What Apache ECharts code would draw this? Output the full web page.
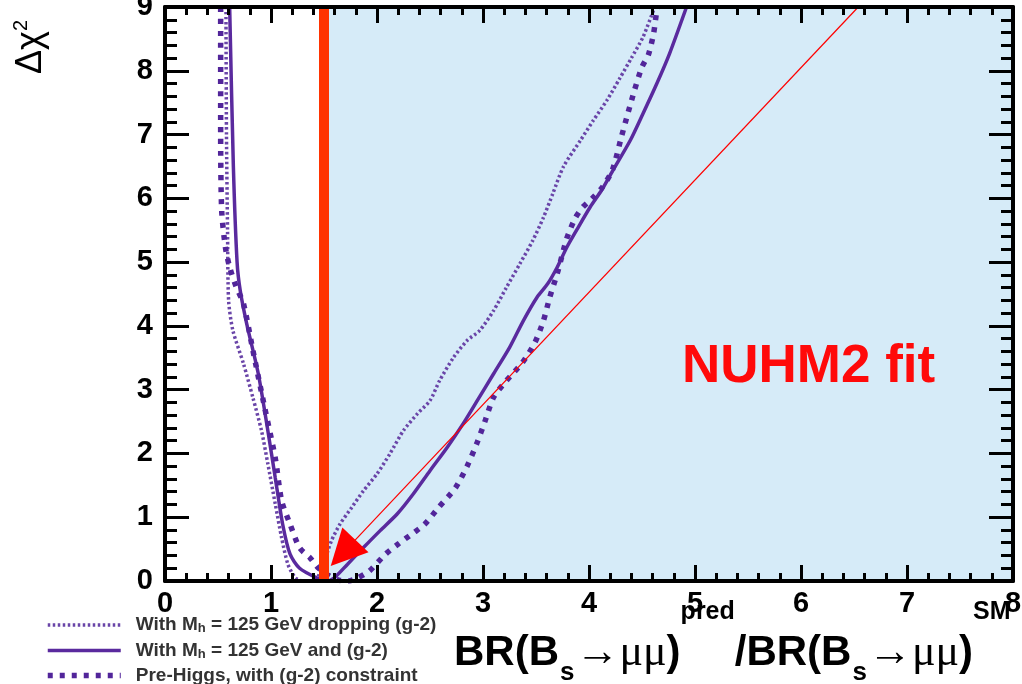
<!DOCTYPE html>
<html>
<head>
<meta charset="utf-8">
<script src="https://cdn.jsdelivr.net/npm/echarts@6/dist/echarts.min.js"></script>
<style>
	html, body { margin: 0; padding: 0; background: #fff; }
	#chart { width: 1022px; height: 684px; }
</style>
</head>
<body>
<div id="chart"></div>
<script>
	"use strict";

	/*-----data-----*/
	var xTicks = [0, 1, 2, 3, 4, 5, 6, 7, 8];
	var yTicks = [0, 1, 2, 3, 4, 5, 6, 7, 8, 9];

	var seriesNames = [
		'With Mh = 125 GeV dropping (g-2)',
		'With Mh = 125 GeV and (g-2)',
		'Pre-Higgs, with (g-2) constraint'
	];

	// dotted: Mh = 125 GeV, (g-2) dropped
	var dropData = [
		[0.575, 9.0], [0.58, 7.0], [0.59, 5.5], [0.60, 4.4], [0.64, 3.93], [0.74, 3.41],
		[0.83, 2.87], [0.91, 2.36], [0.97, 1.84], [1.04, 1.21], [1.10, 0.68], [1.16, 0.26],
		[1.23, 0.05], [1.30, 0.0], [1.42, 0.02], [1.50, 0.30], [1.57, 0.63], [1.65, 0.89],
		[1.76, 1.15], [1.87, 1.41], [2.00, 1.68], [2.12, 1.99], [2.25, 2.36], [2.38, 2.62],
		[2.50, 2.83], [2.59, 3.14], [2.72, 3.50], [2.85, 3.77], [2.97, 3.93], [3.10, 4.24],
		[3.22, 4.60], [3.35, 4.98], [3.47, 5.34], [3.57, 5.70], [3.66, 6.08], [3.76, 6.50],
		[3.92, 6.91], [4.04, 7.22], [4.17, 7.54], [4.29, 7.88], [4.40, 8.20], [4.51, 8.53],
		[4.62, 9.0]
	];

	// solid: Mh = 125 GeV and (g-2)
	var withData = [
		[0.61, 9.0], [0.645, 6.5], [0.68, 5.0], [0.71, 4.55], [0.77, 4.04], [0.88, 3.25],
		[0.97, 2.36], [1.04, 1.62], [1.11, 0.89], [1.18, 0.42], [1.27, 0.20], [1.43, 0.05],
		[1.52, 0.0], [1.59, 0.04], [1.72, 0.26], [1.87, 0.52], [2.03, 0.79], [2.19, 1.05],
		[2.34, 1.36], [2.50, 1.73], [2.66, 2.09], [2.81, 2.46], [2.95, 2.84], [3.10, 3.25],
		[3.25, 3.66], [3.38, 4.08], [3.51, 4.45], [3.61, 4.66], [3.70, 4.92], [3.79, 5.23],
		[3.90, 5.55], [4.01, 5.86], [4.12, 6.13], [4.23, 6.45], [4.39, 6.91], [4.51, 7.33],
		[4.64, 7.80], [4.76, 8.27], [4.92, 9.0]
	];

	// dashed: pre-Higgs with (g-2)
	var preData = [
		[0.525, 9.0], [0.525, 7.0], [0.535, 5.8], [0.57, 5.23], [0.61, 4.92], [0.67, 4.62],
		[0.74, 4.35], [0.83, 3.61], [0.94, 2.72], [1.04, 1.93], [1.10, 1.26], [1.18, 0.89],
		[1.27, 0.52], [1.37, 0.36], [1.45, 0.20], [1.55, 0.08], [1.65, 0.01], [1.73, 0.0],
		[1.82, 0.05], [1.93, 0.16], [2.08, 0.42], [2.20, 0.58], [2.34, 0.75], [2.45, 0.89],
		[2.58, 1.15], [2.74, 1.46], [2.85, 1.80], [2.94, 2.15], [3.02, 2.51], [3.10, 2.88],
		[3.22, 3.14], [3.37, 3.42], [3.49, 3.74], [3.57, 4.08], [3.63, 4.45], [3.70, 4.82],
		[3.75, 5.13], [3.79, 5.37], [3.87, 5.69], [3.94, 5.86], [4.03, 6.00], [4.12, 6.16],
		[4.22, 6.44], [4.31, 6.99], [4.37, 7.35], [4.43, 7.70], [4.50, 8.06], [4.56, 8.25],
		[4.61, 8.59], [4.64, 8.95], [4.65, 9.0]
	];

	// measured value band, line and the pointing arrow
	var measuredX = 1.5;
	var arrowFrom = [6.54, 9.0];
	var arrowTo = [1.68, 0.44];

	var purple = '#5a2a9e';

	/*-----axes-----*/
	function xAxisOf(pos, showLabel) {
		return {
			type: 'value',
			position: pos,
			min: xTicks[0],
			max: xTicks[xTicks.length - 1],
			interval: 1,
			z: 10,
			axisLine: { show: true, onZero: false, lineStyle: { color: '#000', width: 4 } },
			axisTick: { show: true, inside: true, length: 16, lineStyle: { color: '#000', width: 3 } },
			minorTick: { show: true, splitNumber: 5, length: 8, lineStyle: { color: '#000', width: 3 } },
			splitLine: { show: false },
			axisLabel: {
				show: showLabel,
				margin: 8,
				color: '#000',
				fontSize: 29,
				fontWeight: 'bold',
				fontFamily: 'Liberation Sans'
			}
		};
	}

	function yAxisOf(pos, showLabel) {
		return {
			type: 'value',
			position: pos,
			min: yTicks[0],
			max: yTicks[yTicks.length - 1],
			interval: 1,
			z: 10,
			axisLine: { show: true, onZero: false, lineStyle: { color: '#000', width: 4 } },
			axisTick: { show: true, inside: true, length: 24, lineStyle: { color: '#000', width: 3 } },
			minorTick: { show: true, splitNumber: 5, length: 12, lineStyle: { color: '#000', width: 3 } },
			splitLine: { show: false },
			axisLabel: {
				show: showLabel,
				margin: 12,
				color: '#000',
				fontSize: 29,
				fontWeight: 'bold',
				fontFamily: 'Liberation Sans'
			}
		};
	}

	function curve(name, data, style) {
		return {
			name: name,
			type: 'line',
			data: data,
			z: 3,
			smooth: 0.25,
			symbol: 'none',
			silent: true,
			itemStyle: { color: style.color },
			lineStyle: style
		};
	}

	var option = {
		animation: false,
		backgroundColor: '#fff',
		grid: { left: 165, right: 9, top: 7, bottom: 103, outerBoundsMode: 'none', containLabel: false },
		xAxis: [xAxisOf('bottom', true), xAxisOf('top', false)],
		yAxis: [yAxisOf('left', true), yAxisOf('right', false)],
		legend: {
			orient: 'vertical',
			left: 45,
			top: 615,
			height: 90,
			padding: 0,
			itemGap: 5.5,
			itemWidth: 73,
			itemHeight: 14,
			selectedMode: false,
			data: seriesNames,
			itemStyle: { opacity: 0 },
			lineStyle: { width: 'inherit', type: 'inherit' },
			formatter: function (name) {
				var p = name.split('Mh');
				if (p.length > 1) {
					return '{t|' + p[0] + 'M}{h|h}{t|' + p[1] + '}';
				}
				return '{t|' + name + '}';
			},
			textStyle: {
				padding: [0, 0, 0, 10],
				rich: {
					t: { fontSize: 19, fontWeight: 'bold', color: '#333', lineHeight: 22, fontFamily: 'Liberation Sans' },
					h: { fontSize: 13, fontWeight: 'bold', color: '#333', lineHeight: 22, padding: [7, 0, 0, 0], fontFamily: 'Liberation Sans' }
				}
			}
		},
		series: [
			{
				name: 'band',
				type: 'line',
				data: [],
				z: 1,
				silent: true,
				markArea: {
					silent: true,
					itemStyle: { color: '#d6ebf8' },
					data: [[{ xAxis: measuredX, yAxis: yTicks[0] }, { xAxis: xTicks[xTicks.length - 1], yAxis: yTicks[yTicks.length - 1] }]]
				}
			},
			curve(seriesNames[0], dropData, { color: '#6a45a8', width: 3.5, type: [2.5, 2.5] }),
			curve(seriesNames[1], withData, { color: purple, width: 3.5, type: 'solid' }),
			curve(seriesNames[2], preData, { color: '#52259a', width: 5.5, type: [5, 7] }),
			{
				name: 'measured',
				type: 'line',
				data: [],
				z: 5,
				silent: true,
				markLine: {
					silent: true,
					symbol: 'none',
					label: { show: false },
					lineStyle: { color: '#ff3300', width: 10, type: 'solid' },
					data: [{ xAxis: measuredX }]
				}
			},
			{
				name: 'arrow',
				type: 'line',
				data: [],
				z: 6,
				silent: true,
				markLine: {
					silent: true,
					symbol: ['none', 'triangle'],
					symbolSize: 36,
					label: { show: false },
					lineStyle: { color: '#ff0000', width: 1.2, type: 'solid', opacity: 1 },
					itemStyle: { color: '#ff0000' },
					data: [[{ coord: arrowFrom }, { coord: arrowTo }]]
				}
			}
		],
		graphic: [
			{
				type: 'text',
				left: 682,
				top: 341,
				z: 20,
				style: {
					text: 'NUHM2 fit',
					fill: '#ff0a0a',
					fontSize: 53,
					fontWeight: 'bold',
					fontFamily: 'Liberation Sans'
				}
			},
			{
				type: 'text',
				x: 31,
				y: 74,
				rotation: Math.PI / 2,
				z: 20,
				style: {
					text: '{d|\u0394\u03c7}{p|2}',
					align: 'left',
					verticalAlign: 'middle',
					rich: {
						d: { fontSize: 36, fill: '#000', lineHeight: 40, fontFamily: 'Liberation Sans' },
						p: { fontSize: 20, fill: '#000', lineHeight: 20, verticalAlign: 'top', fontFamily: 'Liberation Sans' }
					}
				}
			},
			{
				type: 'text',
				left: 454,
				top: 600,
				z: 20,
				style: {
					text: '{b|BR(B}{s|s}{m|\u2192\u03bc\u03bc}{b|)}{p|pred}{b|/BR(B}{s|s}{m|\u2192\u03bc\u03bc}{b|)}{p|SM}',
					rich: {
						b: { fontSize: 42, fontWeight: 'bold', fill: '#000', lineHeight: 106, verticalAlign: 'middle', fontFamily: 'Liberation Sans' },
						s: { fontSize: 26, fontWeight: 'bold', fill: '#000', padding: [40, 1, 0, 1], verticalAlign: 'middle', fontFamily: 'Liberation Sans' },
						m: { fontSize: 44, fill: '#000', lineHeight: 106, verticalAlign: 'middle', fontFamily: 'Liberation Serif' },
						p: { fontSize: 25, fontWeight: 'bold', fill: '#000', lineHeight: 28, verticalAlign: 'top', fontFamily: 'Liberation Sans' }
					}
				}
			}
		]
	};

	var chart = echarts.init(document.getElementById('chart'));
	chart.setOption(option);
</script>
</body>
</html>
